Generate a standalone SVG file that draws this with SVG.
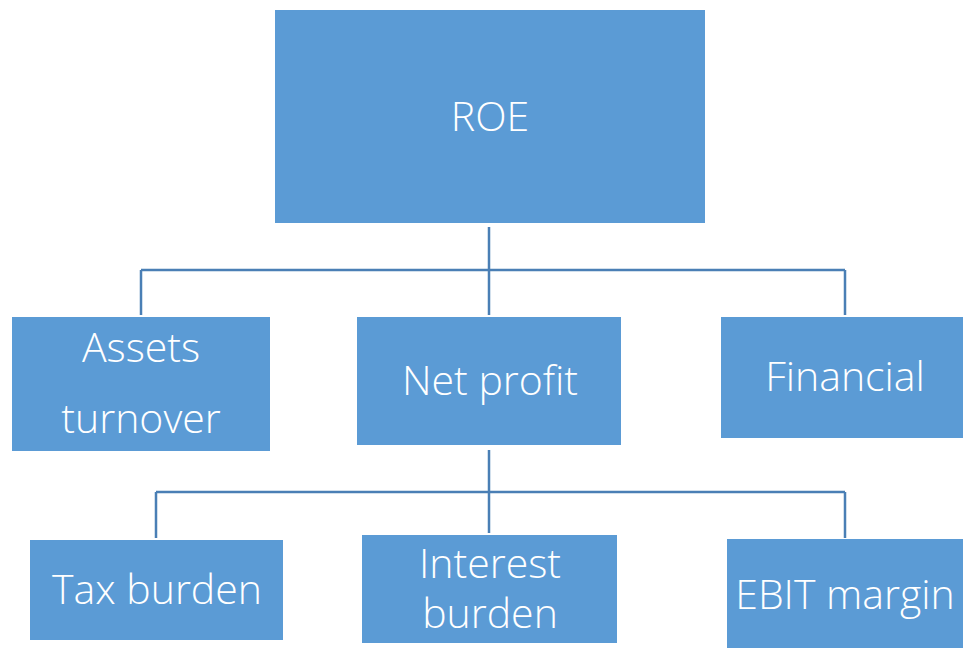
<svg xmlns="http://www.w3.org/2000/svg" width="963" height="648" viewBox="0 0 963 648">
<style>
.box{fill:#5B9BD5;}
.lbl{fill:#FFFFFF;font-family:"Open Sans","Noto Sans","Liberation Sans",sans-serif;font-weight:300;font-size:41px;text-anchor:middle;}
.con{fill:none;stroke:#4A7FB5;stroke-width:2.5;}
</style>
<rect width="963" height="648" fill="#FFFFFF"/>
<g id="connectors">
<path class="con" d="M489,227 V270 M141,270 H845 M141,270 V315 M489,270 V315 M845,270 V315"/>
<path class="con" d="M489,450 V492 M156,492 H845 M156,492 V538 M489,492 V533 M845,492 V538"/>
</g>
<g id="roe"><rect class="box" x="275" y="10" width="430" height="213"/><text class="lbl" x="490" y="131">ROE</text></g>
<g id="assets"><rect class="box" x="12" y="317" width="258" height="134"/><text class="lbl" x="141" y="362">Assets</text><text class="lbl" x="141" y="433">turnover</text></g>
<g id="netprofit"><rect class="box" x="357" y="317" width="264" height="128"/><text class="lbl" x="490" y="395">Net profit</text></g>
<g id="financial"><rect class="box" x="721" y="317" width="242" height="121"/><text class="lbl" x="845" y="391">Financial</text></g>
<g id="tax"><rect class="box" x="30" y="540" width="253" height="100"/><text class="lbl" x="157" y="604">Tax burden</text></g>
<g id="interest"><rect class="box" x="362" y="535" width="255" height="108"/><text class="lbl" x="490" y="578">Interest</text><text class="lbl" x="490" y="628">burden</text></g>
<g id="ebit"><rect class="box" x="727" y="539" width="236" height="109"/><text class="lbl" x="845" y="609">EBIT margin</text></g>
</svg>
